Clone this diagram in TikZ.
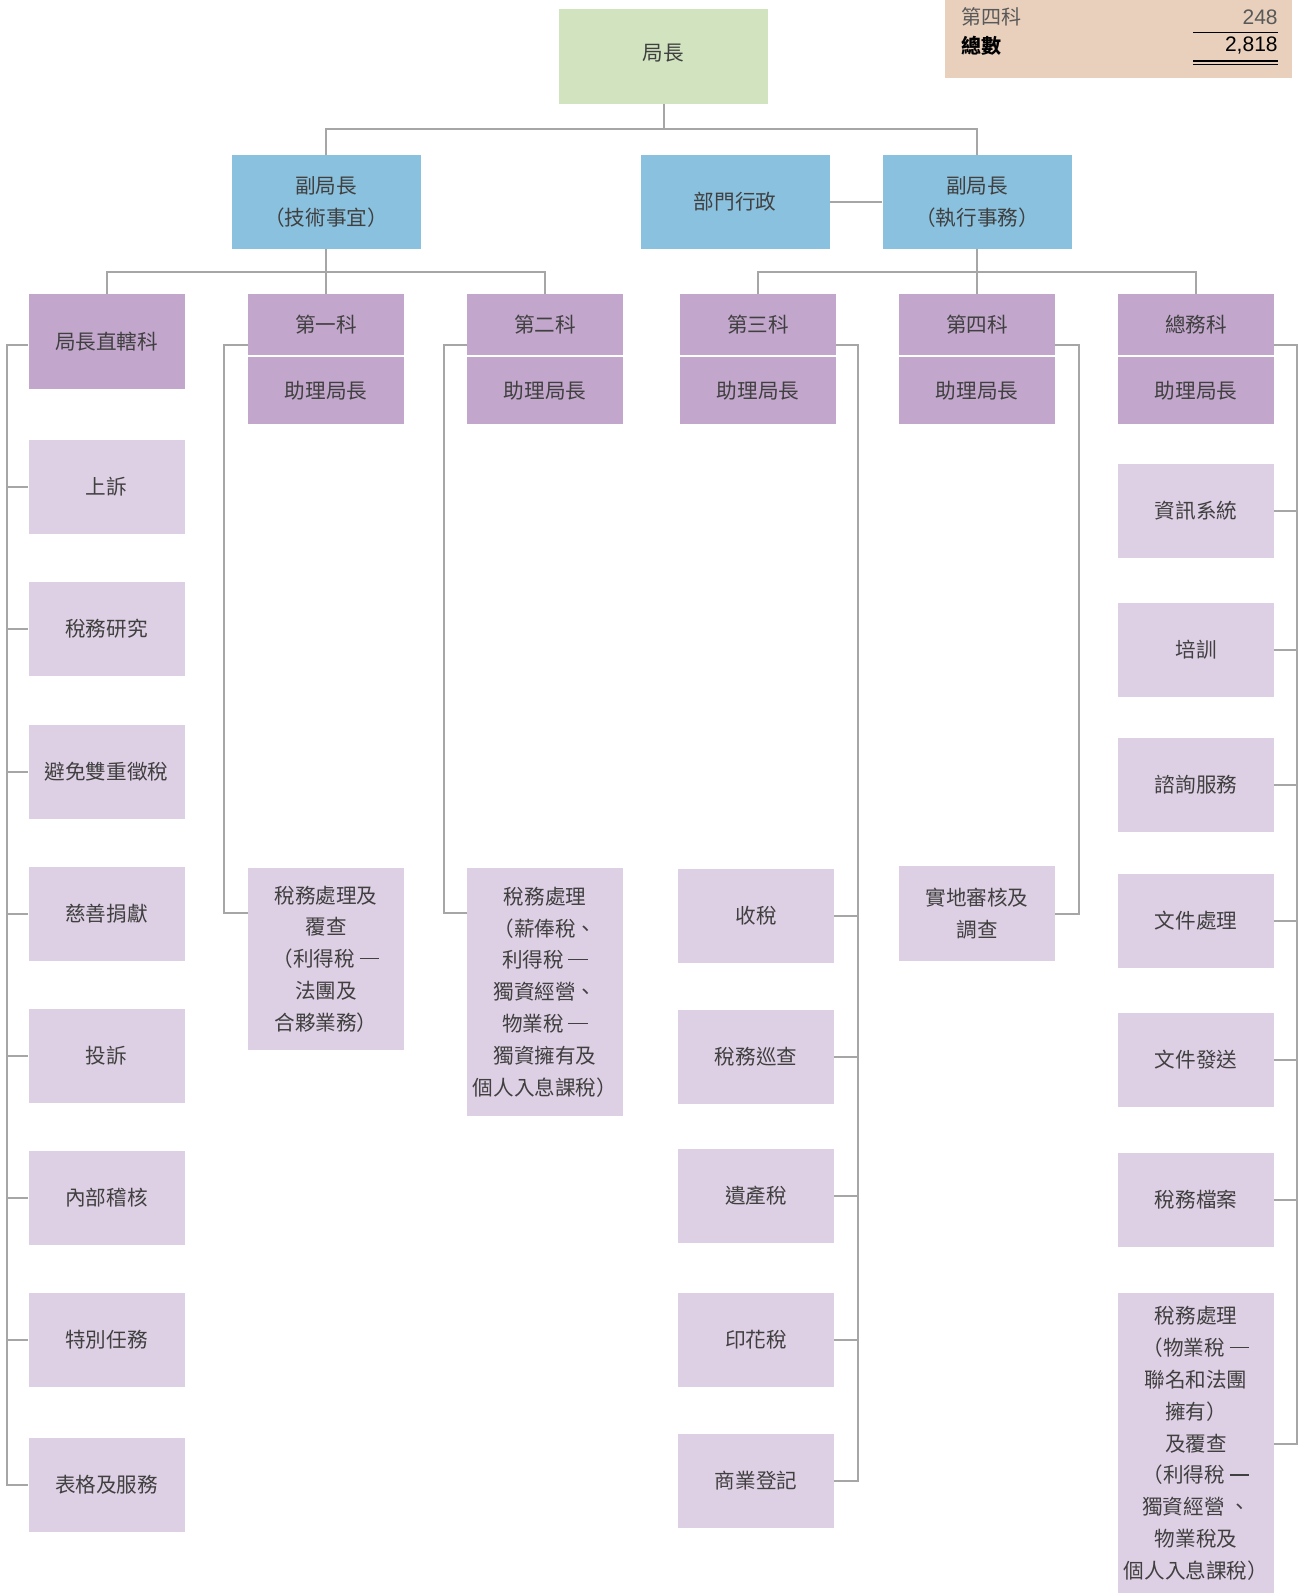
\documentclass[tikz,border=0pt]{standalone}
\usepackage{fontspec}
\setmainfont{Noto Sans CJK TC}
\newfontfamily\numfont{Liberation Sans}
\definecolor{linegray}{HTML}{A6A6A6}
\definecolor{textgray}{HTML}{404040}
\definecolor{topgreen}{HTML}{D1E4BF}
\definecolor{blueb}{HTML}{8AC1DE}
\definecolor{purpd}{HTML}{C2A6CC}
\definecolor{purpl}{HTML}{DED0E4}
\definecolor{tanbg}{HTML}{E8D0BC}
\definecolor{tgray}{HTML}{595959}
\newcommand\dsh{\raisebox{0.36em}{\rule{0.95em}{0.055em}}}
\begin{document}
\begin{tikzpicture}[x=0.5pt,y=-0.5pt,
  conn/.style={draw=linegray, line width=1pt},
  bx/.style={inner sep=0pt, align=center, text=textgray, font=\fontsize{10.3}{15.9}\selectfont},
  topbox/.style={bx, fill=topgreen},
  bluebox/.style={bx, fill=blueb, minimum width=94.5pt, minimum height=47pt},
  dbox/.style={bx, fill=purpd, minimum width=78pt},
  lbox/.style={bx, fill=purpl, minimum width=78pt, minimum height=47pt},
  tabtxt/.style={inner sep=0pt, font=\fontsize{10}{12}\selectfont},
  tabnum/.style={inner sep=0pt, font=\numfont\fontsize{10.5}{12}\selectfont}]
\useasboundingbox (0,0) rectangle (1299,1593);

% summary table
\fill[tanbg] (945,0) rectangle (1292,78);
\node[tabtxt, anchor=west, text=tgray] (t1) at (961,17) {第四科};
\node[tabnum, anchor=east, text=tgray] (t2) at (1278,17) {248};
\node[tabtxt, anchor=west, text=black, font=\fontsize{10}{12}\selectfont\bfseries] (t3) at (961,46) {總數};
\node[tabnum, anchor=east, text=black] (t4) at (1278,46) {2,818};
\draw[black, line width=0.8pt] (1193,32.5) -- (1278,32.5);
\draw[black, line width=0.55pt] (1193,61) -- (1278,61);
\draw[black, line width=0.55pt] (1193,64.5) -- (1278,64.5);

% top levels
\node[topbox, minimum width=104.5pt, minimum height=47.5pt, text depth=4pt] (ju) at (663.5,56.5) {局長};
\node[bluebox] (tech) at (326,202) {副局長\\（技術事宜）};
\node[bluebox] (dept) at (735,202) {部門行政};
\node[bluebox] (exec) at (977,202) {副局長\\（執行事務）};

% divisions
\node[dbox, minimum height=47.5pt] (zhi) at (106.5,341.5) {局長直轄科};
\node[dbox, minimum height=30.5pt] (k1) at (326,324.5) {第一科};
\node[dbox, minimum height=33.5pt] (a1) at (326,390.5) {助理局長};
\node[dbox, minimum height=30.5pt] (k2) at (545,324.5) {第二科};
\node[dbox, minimum height=33.5pt] (a2) at (545,390.5) {助理局長};
\node[dbox, minimum height=30.5pt] (k3) at (758,324.5) {第三科};
\node[dbox, minimum height=33.5pt] (a3) at (758,390.5) {助理局長};
\node[dbox, minimum height=30.5pt] (k4) at (977,324.5) {第四科};
\node[dbox, minimum height=33.5pt] (a4) at (977,390.5) {助理局長};
\node[dbox, minimum height=30.5pt] (zw) at (1196,324.5) {總務科};
\node[dbox, minimum height=33.5pt] (a5) at (1196,390.5) {助理局長};

% left column
\node[lbox] (l1) at (106.5,487) {上訴};
\node[lbox] (l2) at (106.5,629) {稅務研究};
\node[lbox] (l3) at (106.5,771.5) {避免雙重徵稅};
\node[lbox] (l4) at (106.5,913.5) {慈善捐獻};
\node[lbox] (l5) at (106.5,1055.5) {投訴};
\node[lbox] (l6) at (106.5,1198) {內部稽核};
\node[lbox] (l7) at (106.5,1340) {特別任務};
\node[lbox] (l8) at (106.5,1484.5) {表格及服務};

% first and second
\node[lbox, minimum height=91pt] (b1) at (326,959) {稅務處理及\\覆查\\（利得稅 \dsh\\法團及\\合夥業務）};
\node[lbox, minimum height=124pt] (b2) at (545,992) {稅務處理\\（薪俸稅、\\利得稅 \dsh\\獨資經營、\\物業稅 \dsh\\獨資擁有及\\個人入息課稅）};

% third
\node[lbox] (c1) at (756,915.5) {收稅};
\node[lbox] (c2) at (756,1057) {稅務巡查};
\node[lbox] (c3) at (756,1196) {遺產稅};
\node[lbox] (c4) at (756,1340) {印花稅};
\node[lbox] (c5) at (756,1481) {商業登記};

% fourth
\node[lbox, minimum height=47.5pt] (b4) at (977,913.5) {實地審核及\\調查};

% general
\node[lbox] (z1) at (1196,511) {資訊系統};
\node[lbox] (z2) at (1196,649.5) {培訓};
\node[lbox] (z3) at (1196,784.5) {諮詢服務};
\node[lbox] (z4) at (1196,920.5) {文件處理};
\node[lbox] (z5) at (1196,1060) {文件發送};
\node[lbox] (z6) at (1196,1200) {稅務檔案};
\node[lbox, minimum height=150.5pt] (z7) at (1196,1443.5) {稅務處理\\（物業稅 \dsh\\聯名和法團\\擁有）\\及覆查\\（利得稅 \dsh\\獨資經營 、\\物業稅及\\個人入息課稅）};

% connectors top
\coordinate (j1) at (663.5,129);
\draw[conn] (ju.south) -- (j1);
\draw[conn] (tech.north) |- (j1) -| (exec.north);
\draw[conn] (dept.east) -- (exec.west);
\coordinate (j2) at (326,272);
\draw[conn] (tech.south) -- (k1.north);
\draw[conn] (zhi.north) |- (j2) -| (k2.north);
\coordinate (j3) at (977,272);
\draw[conn] (exec.south) -- (k4.north);
\draw[conn] (k3.north) |- (j3) -| (zw.north);

% left spine
\coordinate (sL) at (7,345);
\draw[conn] (zhi.west |- sL) -- (sL) |- (l8.west);
\foreach \n in {l1,l2,l3,l4,l5,l6,l7} \draw[conn] (\n.west) -- (\n.west -| sL);

% first spine
\coordinate (s1) at (224,345);
\coordinate (s1b) at (224,913);
\draw[conn] (k1.west |- s1) -- (s1) -- (s1b) -- (b1.west |- s1b);
% second spine
\coordinate (s2) at (444,345);
\coordinate (s2b) at (444,913);
\draw[conn] (k2.west |- s2) -- (s2) -- (s2b) -- (b2.west |- s2b);
% third spine
\coordinate (s3) at (858,345);
\draw[conn] (k3.east |- s3) -- (s3) |- (c5.east);
\foreach \n in {c1,c2,c3,c4} \draw[conn] (\n.east) -- (\n.east -| s3);
% fourth spine
\coordinate (s4) at (1079,345);
\draw[conn] (k4.east |- s4) -- (s4) |- (b4.east);
% general spine
\coordinate (s5) at (1297,345);
\draw[conn] (zw.east |- s5) -- (s5) |- (z7.east);
\foreach \n in {z1,z2,z3,z4,z5,z6} \draw[conn] (\n.east) -- (\n.east -| s5);
\end{tikzpicture}
\end{document}
